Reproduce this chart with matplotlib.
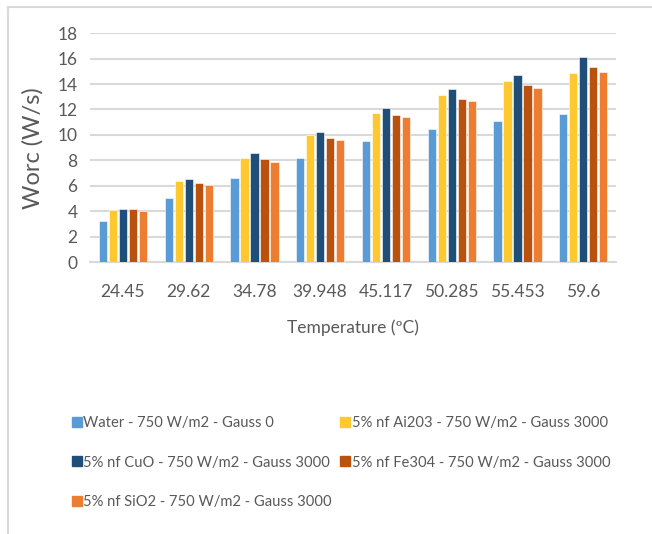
import numpy as np
import matplotlib.pyplot as plt
from matplotlib.lines import Line2D

temps = ["24.45", "29.62", "34.78", "39.948", "45.117", "50.285", "55.453", "59.6"]
water = [3.2, 5.05, 6.62, 8.2, 9.5, 10.45, 11.07, 11.65]
al2o3 = [4.13, 6.36, 8.2, 9.96, 11.72, 13.1, 14.2, 14.87]
cuo = [4.17, 6.52, 8.57, 10.22, 12.09, 13.58, 14.69, 16.15]
fe3o4 = [4.15, 6.26, 8.09, 9.77, 11.54, 12.82, 13.95, 15.34]
sio2 = [4.03, 6.1, 7.91, 9.59, 11.38, 12.66, 13.69, 14.97]

labels = ["Water - 750 W/m2 - Gauss 0",
          "5% nf Ai203 - 750 W/m2 - Gauss 3000",
          "5% nf CuO - 750 W/m2 - Gauss 3000",
          "5% nf Fe304 - 750 W/m2 - Gauss 3000",
          "5% nf SiO2 - 750 W/m2 - Gauss 3000"]
colors = ["#5B9BD5", "#FFC82E", "#1F4E79", "#B9520F", "#ED7D31"]

plt.rcParams['font.family'] = ['Lato', 'DejaVu Sans']
txt = "#595959"
grid = "#D9D9D9"

fig = plt.figure(figsize=(6.52, 5.34), dpi=100)
ax = fig.add_axes([0.138, 0.509, 0.807, 0.429])

x = np.arange(len(temps))
w = 0.125
pitch = 0.152
handles = []
for i, (vals, c) in enumerate(zip([water, al2o3, cuo, fe3o4, sio2], colors)):
    ax.bar(x + (i - 2) * pitch, vals, width=w, color=c, edgecolor="white", linewidth=0.4, zorder=3)
    handles.append(Line2D([], [], marker="s", linestyle="none", markersize=6.5,
                          markerfacecolor=c, markeredgecolor=c, label=labels[i]))

ax.set_ylim(0, 18)
ax.set_xlim(-0.5, len(temps) - 0.5)
ax.set_yticks(range(0, 19, 2))
ax.set_xticks(x)
ax.set_xticklabels(temps)
ax.tick_params(length=0, labelsize=12.5, colors=txt, pad=16)
ax.tick_params(axis="y", pad=9)
ax.grid(axis="y", color=grid, linewidth=1.5, zorder=0)
for s in ["top", "right", "left"]:
    ax.spines[s].set_visible(False)
ax.spines["bottom"].set_color(grid)
ax.spines["bottom"].set_linewidth(1.5)

ax.set_ylabel("Worc (W/s)", fontsize=17, color=txt, labelpad=10)
ax.set_xlabel("Temperature (ºC)", fontsize=12.5, color=txt, labelpad=14)

order = [0, 2, 4, 1, 3]
fig.legend([handles[k] for k in order], [labels[k] for k in order], ncol=2,
           loc="upper left", bbox_to_anchor=(0.088, 0.246), frameon=False,
           fontsize=10.6, labelcolor=txt, handletextpad=0.05, handlelength=0.8,
           columnspacing=0.5, labelspacing=1.75)

# outer chart border (left and top)
fig.add_artist(Line2D([0.013, 0.013], [0.0, 0.987], color=grid, linewidth=1.5))
fig.add_artist(Line2D([0.013, 1.0], [0.987, 0.987], color=grid, linewidth=1.5))

fig.savefig("out.png", dpi=100)
